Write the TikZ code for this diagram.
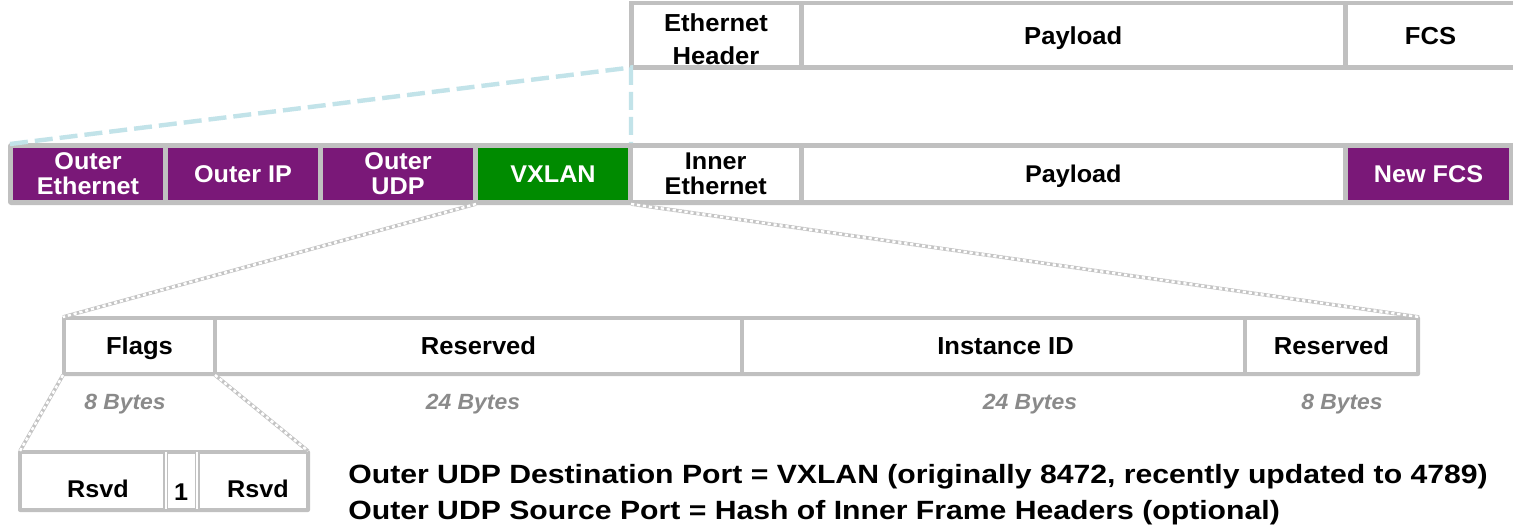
\documentclass[tikz,border=0pt]{standalone}
\usepackage{fontspec}
\setmainfont{Liberation Sans}[FakeStretch=1.04]
\newfontfamily\notefont{Liberation Sans}[FakeStretch=1.143]
\definecolor{gb}{HTML}{C0C0C0}
\definecolor{pur}{HTML}{7A1878}
\definecolor{grn}{HTML}{008B00}
\definecolor{lb}{HTML}{C2E3E9}
\definecolor{bgray}{HTML}{8A8A8A}
\definecolor{shd}{HTML}{C4C4C4}
\tikzset{
  wh/.style 2 args={minimum width={#1*0.5pt}, minimum height={#2*0.5pt}},
  back/.style={fill=gb, draw=none, inner sep=0pt, outer sep=0pt},
  cell/.style={draw=none, inner sep=0pt, outer sep=0pt, align=center},
  one/.style={text height=0.88em, text depth=0pt},
  topcell/.style={cell, fill=white, text=black, font=\bfseries\fontsize{12.3}{16.3}\selectfont},
  toptxt/.style={inner sep=0pt, align=center, text=black, font=\bfseries\fontsize{12.3}{16.3}\selectfont},
  midcell/.style={cell, fill=white, text=black, font=\bfseries\fontsize{12.1}{12.5}\selectfont},
  purcell/.style={midcell, fill=pur, text=white},
  grncell/.style={midcell, fill=grn, text=white},
  fieldcell/.style={cell, one, fill=white, text=black, font=\bfseries\fontsize{12.3}{14}\selectfont},
  bytes/.style={anchor=base, inner sep=0pt, text=bgray, font=\bfseries\itshape\fontsize{11}{12}\selectfont},
  rsvdtxt/.style={anchor=base, inner sep=0pt, text=black, font=\bfseries\fontsize{12.1}{14}\selectfont},
  note/.style={anchor=base west, inner sep=0pt, text=black, font=\notefont\bfseries\fontsize{13.2}{18}\selectfont},
  bluedash/.style={draw=lb, line width=2.2pt, dash pattern=on 9pt off 3.5pt},
  zoomshadow/.style={draw=shd, line width=1.8pt},
  zoomdots/.style={draw=white, line width=1.2pt, dash pattern=on 1.6pt off 1.4pt},
  sepbar/.style={draw=gb, fill=white, line width=0.6pt},
}
\begin{document}
\begin{tikzpicture}[x=0.5pt, y=-0.5pt]
\useasboundingbox[fill=white] (0,0) rectangle (1513,524);
\clip (0,0) rectangle (1513,524);

% ---- top row: original frame
\node[back, wh={901}{68.5}] (toprow) at (1079.5,35.75) {};
\node[topcell, wh={165}{60}] (teh) at (716,35.5) {};
\node[toptxt] (tehl) at (716,39) {Ethernet\\Header};
\node[topcell, one, wh={539.5}{60}] (tpl) at (1073.25,35.5) {Payload};
\node[topcell, one, wh={165}{60}] (tfcs) at (1430.5,35.5) {FCS};

% ---- middle row: encapsulated frame
\node[back, rounded corners=1.5pt, wh={1522}{62}] (midrow) at (769,174) {};
\node[purcell, wh={150}{52}] (oe) at (88,174) {Outer\\Ethernet};
\node[purcell, one, wh={150}{52}] (oip) at (243,174) {Outer IP};
\node[purcell, wh={150}{52}] (oudp) at (398,174) {Outer\\UDP};
\node[grncell, one, wh={150}{52}] (vx) at (553,174) {VXLAN};
\node[midcell, wh={165.5}{52}] (ie) at (715.75,174) {Inner\\Ethernet};
\node[midcell, one, wh={539.5}{52}] (mpl) at (1073.25,174) {Payload};
\node[purcell, one, wh={161}{52}] (nf) at (1428.5,174) {New FCS};

% ---- VXLAN header
\node[back, rounded corners=1pt, wh={1358}{60}] (hdr) at (741,346) {};
\node[fieldcell, wh={147}{52}] (flags) at (139.5,346) {Flags};
\node[fieldcell, wh={523}{52}] (res1) at (478.5,346) {Reserved};
\node[fieldcell, wh={499}{52}] (iid) at (993.5,346) {\hspace*{12pt}Instance ID};
\node[fieldcell, wh={169}{52}] (res2) at (1331.5,346) {Reserved};

\node[bytes] (b1) at (125,409.5) {8 Bytes};
\node[bytes] (b2) at (473,409.5) {24 Bytes};
\node[bytes] (b3) at (1030,409.5) {24 Bytes};
\node[bytes] (b4) at (1342,409.5) {8 Bytes};

% ---- flags detail
\node[back, rounded corners=1pt, wh={292}{62}] (flg) at (164,481) {};
\node[cell, fill=white, wh={284}{54}] (flgin) at (164,481) {};
\node[sepbar, inner sep=0pt, wh={3.5}{59}] (s1) at (165.75,480.5) {};
\node[sepbar, inner sep=0pt, wh={3.5}{59}] (s2) at (197.25,480.5) {};
\node[rsvdtxt] (r1) at (98,497) {Rsvd};
\node[rsvdtxt] (one) at (181,500) {1};
\node[rsvdtxt] (r2) at (258,497) {Rsvd};

% ---- notes
\node[note] (n1) at (348,483) {Outer UDP Destination Port = VXLAN (originally 8472, recently updated to 4789)};
\node[note] (n2) at (348,519) {Outer UDP Source Port = Hash of Inner Frame Headers (optional)};

% ---- connectors
\coordinate (bA) at (10,144);
\coordinate (bB) at (631,67.5);
\coordinate (bC) at (631,143);
\draw[bluedash] (bA) -- (bB) -- (bC);

\coordinate (z1a) at (476,204);
\coordinate (z1b) at (63,317);
\coordinate (z2a) at (631,204);
\coordinate (z2b) at (1419,317);
\coordinate (z3a) at (63,375);
\coordinate (z3b) at (20,451);
\coordinate (z4a) at (215,375);
\coordinate (z4b) at (308,451);
\foreach \a/\b in {z1a/z1b, z2a/z2b, z3a/z3b, z4a/z4b} {
  \draw[zoomshadow] (\a) -- (\b);
  \draw[zoomdots] (\a) -- (\b);
}
\end{tikzpicture}
\end{document}
